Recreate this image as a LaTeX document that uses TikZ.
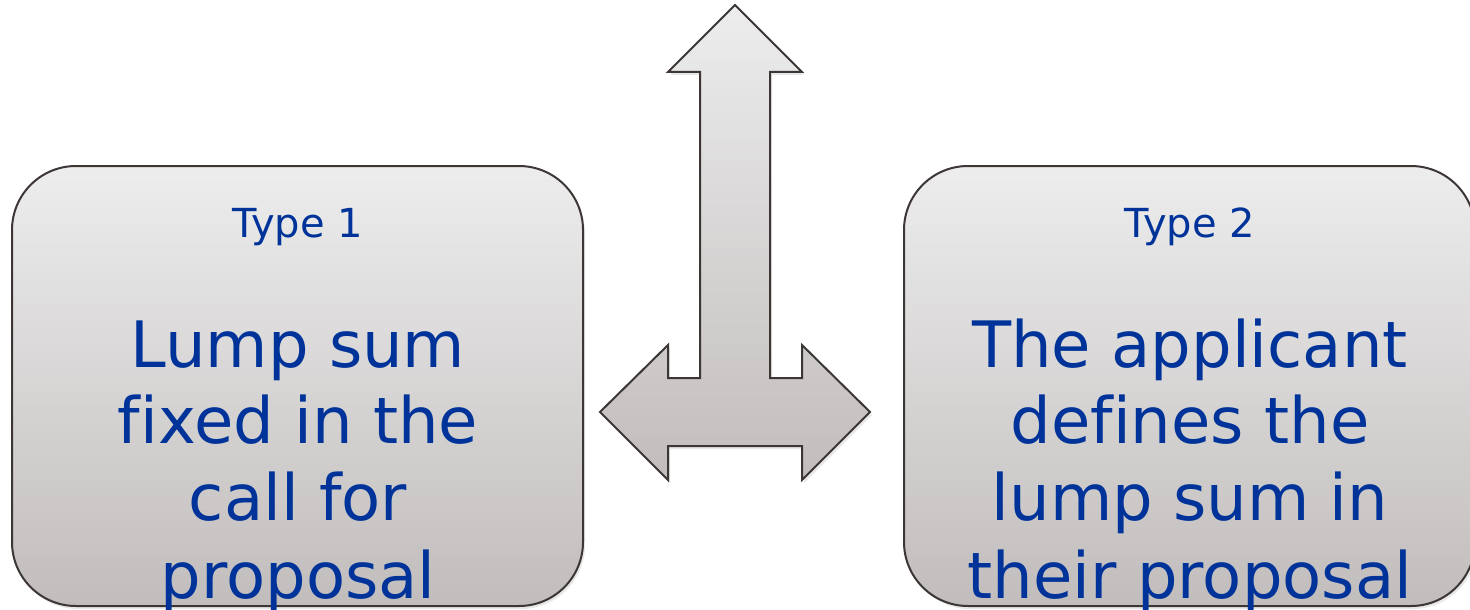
\documentclass[tikz,border=0pt]{standalone}
\usepackage{fontspec}
\setmainfont[Ligatures=NoCommon]{DejaVu Sans}
\usetikzlibrary{shadows}
\definecolor{txtblue}{HTML}{003399}
\definecolor{edgegray}{HTML}{3C3635}
\definecolor{filltop}{HTML}{EDEDED}
\definecolor{fillbot}{HTML}{C1BDBC}
\tikzset{
  panel/.style={draw=edgegray, line width=2pt, rounded corners=64pt,
    top color=filltop, bottom color=fillbot,
    drop shadow={shadow xshift=2pt, shadow yshift=-3pt, opacity=0.18}},
  smalltxt/.style={text=txtblue, font=\fontsize{40}{48}\selectfont, inner sep=0pt, anchor=base},
  bigtxt/.style={text=txtblue, font=\fontsize{64}{77}\selectfont, inner sep=0pt, anchor=base}
}
\begin{document}
\begin{tikzpicture}[x=1pt,y=-1pt]
\useasboundingbox (0,0) rectangle (1470,610);
\clip (0,0) rectangle (1470,610);
% boxes
\path[panel] (12,166) rectangle (583,606);
\coordinate (boxA) at (297.5,386);
\path[panel] (904,166) rectangle (1475,606);
\coordinate (boxB) at (1189.5,386);
% arrow
\path[draw=edgegray, line width=2pt, line join=miter, top color=filltop, bottom color=fillbot,
  drop shadow={shadow xshift=2pt, shadow yshift=-3pt, opacity=0.18}]
  (735,5) -- (802,72) -- (770,72) -- (770,378) -- (802,378) -- (802,345) -- (870,412)
  -- (802,480) -- (802,446) -- (668,446) -- (668,480) -- (600,412) -- (668,345)
  -- (668,378) -- (700,378) -- (700,72) -- (668,72) -- cycle;
% texts left
\node[smalltxt] (t1) at (298,237) {Type 1};
\node[bigtxt] (a1) at (298,367) {Lump sum};
\node[bigtxt] (a2) at (298,443) {fixed in the};
\node[bigtxt] (a3) at (298,520) {call for};
\node[bigtxt] (a4) at (298,598) {proposal};
% texts right
\node[smalltxt] (t2) at (1190,237) {Type 2};
\node[bigtxt] (b1) at (1190,367) {The applicant};
\node[bigtxt] (b2) at (1190,443) {defines the};
\node[bigtxt] (b3) at (1190,520) {lump sum in};
\node[bigtxt] (b4) at (1190,598) {their proposal};
\end{tikzpicture}
\end{document}
